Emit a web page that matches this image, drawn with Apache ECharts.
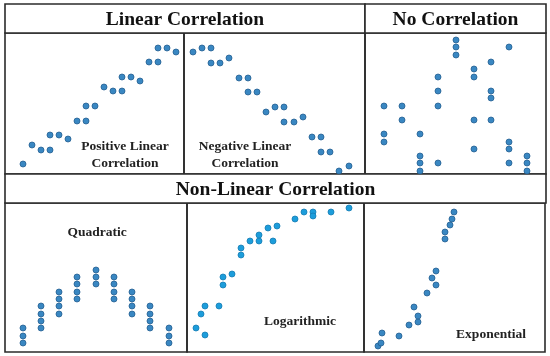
<!DOCTYPE html>
<html>
<head>
<meta charset="utf-8">
<style>html,body{margin:0;padding:0;background:#fff}#c{width:550px;height:356px}</style>
<script src="https://cdn.jsdelivr.net/npm/echarts@6/dist/echarts.min.js"></script>
</head>
<body>
<div id="c"></div>
<script>
// Values (units: panel-relative, x from left, y from bottom)
const headerTitles = ['Linear Correlation', 'No Correlation', 'Non-Linear Correlation'];
const panelLabels = ['Positive Linear\nCorrelation', 'Negative Linear\nCorrelation', '', 'Quadratic', 'Logarithmic', 'Exponential'];

const posX = [18, 27, 36, 45, 45, 54, 63, 72, 81, 81, 90, 99, 108, 117, 117, 126, 135, 144, 153, 153, 162, 171];
const posY = [10, 29, 24, 24, 39, 39, 35, 53, 53, 68, 68, 87, 83, 83, 97, 97, 93, 112, 112, 126, 126, 122];

const negX = [9, 18, 27, 27, 36, 45, 55, 64, 64, 73, 82, 91, 100, 100, 110, 119, 128, 137, 137, 146, 155, 165];
const negY = [122, 126, 126, 111, 111, 116, 96, 96, 82, 82, 62, 67, 67, 52, 52, 57, 37, 37, 22, 22, 3, 8];

const noneX = [19, 19, 19, 37, 37, 55, 55, 55, 55, 73, 73, 73, 73, 91, 91, 91, 109, 109, 109, 109, 126, 126, 126, 126, 144, 144, 144, 144, 162, 162, 162];
const noneY = [68, 40, 32, 68, 54, 40, 18, 11, 3, 97, 83, 68, 11, 134, 127, 119, 105, 97, 54, 25, 112, 83, 76, 54, 127, 32, 25, 11, 18, 11, 3];

const quadX = [18, 18, 18, 36, 36, 36, 36, 54, 54, 54, 54, 72, 72, 72, 72, 91, 91, 91, 109, 109, 109, 109, 127, 127, 127, 127, 145, 145, 145, 145, 164, 164, 164];
const quadY = [24, 16, 9, 46, 38, 31, 24, 60, 53, 46, 38, 75, 68, 60, 53, 82, 75, 68, 75, 68, 60, 53, 60, 53, 46, 38, 46, 38, 31, 24, 24, 16, 9];

const logX = [9, 18, 14, 18, 32, 36, 36, 45, 54, 54, 63, 72, 72, 81, 86, 90, 108, 117, 126, 126, 144, 162];
const logY = [24, 17, 38, 46, 46, 67, 75, 78, 97, 104, 111, 111, 117, 124, 111, 126, 133, 140, 140, 136, 140, 144];

const expX = [14, 17, 18, 35, 45, 54, 54, 50, 63, 72, 68, 72, 81, 81, 86, 88, 90];
const expY = [6, 9, 19, 16, 27, 30, 36, 45, 59, 67, 74, 81, 113, 120, 127, 133, 140];

// Layout (pixels)
const panels = [
  {l: 5,   t: 33,  w: 179, h: 141},
  {l: 184, t: 33,  w: 181, h: 141},
  {l: 365, t: 33,  w: 181, h: 141},
  {l: 5,   t: 203, w: 182, h: 149},
  {l: 187, t: 203, w: 177, h: 149},
  {l: 364, t: 203, w: 181, h: 149}
];
const headers = [
  {l: 5,   t: 4,   w: 360, h: 29},
  {l: 365, t: 4,   w: 181, h: 29},
  {l: 5,   t: 174, w: 541, h: 29}
];
const labelPos = [
  [125, 147], [245, 147], null, [97, 233], [300, 322], [491, 335]
];

const dataSets = [[posX, posY], [negX, negY], [noneX, noneY], [quadX, quadY], [logX, logY], [expX, expY]];
const lineColor = '#2b2b2b';
const fontFam = '"Liberation Serif", "Times New Roman", serif';

const grid = [], xAxis = [], yAxis = [], series = [], graphic = [];
panels.forEach((p, i) => {
  grid.push({left: p.l, top: p.t, width: p.w, height: p.h, show: false, containLabel: false});
  xAxis.push({type: 'value', gridIndex: i, min: 0, max: p.w, show: false});
  yAxis.push({type: 'value', gridIndex: i, min: 0, max: p.h, show: false});
  const [xs, ys] = dataSets[i];
  const isLog = i === 4;
  series.push({
    type: 'scatter', xAxisIndex: i, yAxisIndex: i, clip: false,
    symbol: 'circle', symbolSize: 6,
    itemStyle: {color: isLog ? '#1c9ddb' : '#3987c2', borderColor: isLog ? '#157cb4' : '#245f92', borderWidth: 0.8, opacity: 1},
    data: xs.map((x, k) => [x, ys[k]]),
    silent: true, z: 3
  });
  graphic.push({type: 'rect', shape: {x: p.l, y: p.t, width: p.w, height: p.h}, style: {fill: null, stroke: lineColor, lineWidth: 1.6}, z: 1});
});
headers.forEach((h, i) => {
  graphic.push({type: 'rect', shape: {x: h.l, y: h.t, width: h.w, height: h.h}, style: {fill: '#fff', stroke: lineColor, lineWidth: 1.6}, z: 1});
  graphic.push({type: 'text', x: h.l + h.w / 2, y: h.t + h.h / 2 + 1, style: {text: headerTitles[i], font: 'bold 19.5px ' + fontFam, fill: '#111', align: 'center', verticalAlign: 'middle'}, z: 5});
});
panelLabels.forEach((t, i) => {
  if (!t || !labelPos[i]) return;
  graphic.push({type: 'text', x: labelPos[i][0], y: labelPos[i][1] + (t.indexOf('\n') >= 0 ? 8 : 0), style: {text: t, font: 'bold 13.5px ' + fontFam, fill: '#222', align: 'center', verticalAlign: 'middle', lineHeight: 17}, z: 5});
});

const chart = echarts.init(document.getElementById('c'), null, {renderer: 'canvas'});
chart.setOption({animation: false, backgroundColor: '#fff', grid, xAxis, yAxis, series, graphic});
</script>
</body>
</html>
